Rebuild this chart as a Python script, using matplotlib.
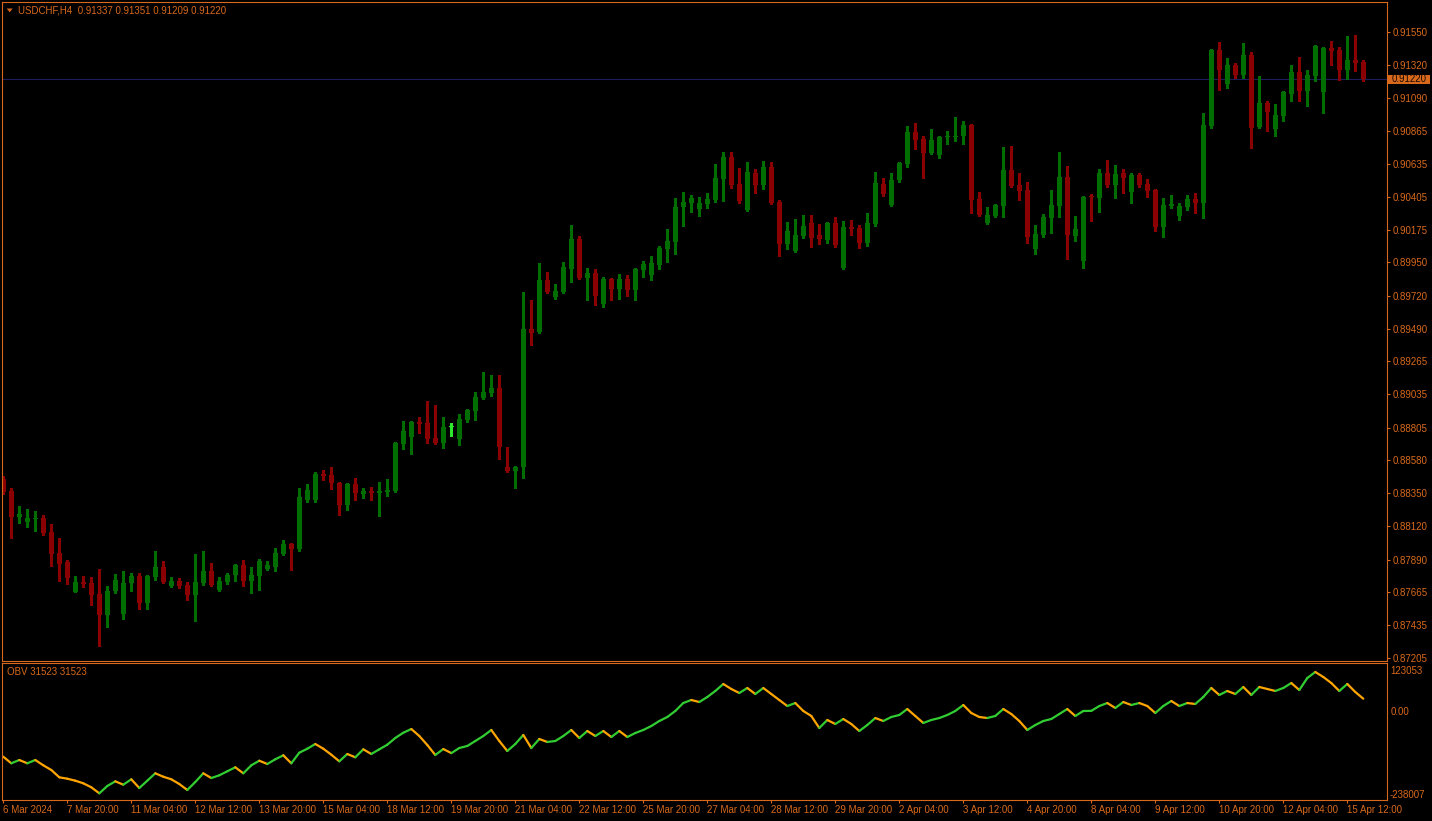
import matplotlib
matplotlib.use("Agg")
import matplotlib.pyplot as plt
from matplotlib.collections import LineCollection
from matplotlib.patches import Rectangle, Polygon
import numpy as np

plt.rcParams['font.family'] = ['Liberation Sans', 'DejaVu Sans']

symbol = "USDCHF,H4"

open_ = [0.88449,0.88365,0.88187,0.88153,0.88171,0.88178,0.88081,0.87936,0.87873,0.87667,
         0.87734,0.87728,0.87651,0.87508,0.87672,0.87513,0.87728,0.87776,0.87589,0.87769,
         0.87838,0.87707,0.87741,0.87714,0.87644,0.87728,0.87811,0.87679,0.87734,0.87783,
         0.87852,0.87741,0.87776,0.87825,0.87838,0.87929,0.87998,0.87963,0.88303,0.88303,
         0.88483,0.88476,0.88421,0.88268,0.88414,0.88345,0.88365,0.88352,0.88359,0.88365,
         0.88691,0.88740,0.88844,0.88837,0.88733,0.88698,0.88809,0.88726,0.88858,0.88920,
         0.89010,0.89045,0.89080,0.88532,0.88504,0.88532,0.89489,0.89468,0.89829,0.89711,
         0.89745,0.89905,0.90113,0.89842,0.89877,0.89662,0.89835,0.89766,0.89835,0.89759,
         0.89898,0.89863,0.89932,0.90043,0.90092,0.90335,0.90362,0.90321,0.90356,0.90383,
         0.90529,0.90681,0.90494,0.90314,0.90570,0.90487,0.90612,0.90369,0.90078,0.90030,
         0.90134,0.90224,0.90141,0.90106,0.90224,0.89912,0.90196,0.90189,0.90085,0.90217,
         0.90494,0.90349,0.90522,0.90633,0.90855,0.90806,0.90709,0.90695,0.90820,0.90820,
         0.90827,0.90903,0.90390,0.90224,0.90272,0.90342,0.90591,0.90487,0.90453,0.90043,
         0.90141,0.90258,0.90342,0.90543,0.90134,0.89960,0.90404,0.90397,0.90570,0.90487,
         0.90570,0.90439,0.90557,0.90494,0.90453,0.90196,0.90345,0.90272,0.90335,0.90390,
         0.90362,0.90896,0.91423,0.91188,0.91319,0.91250,0.91389,0.90889,0.91056,0.90876,
         0.90966,0.91118,0.91271,0.91139,0.91243,0.91132,0.91437,0.91423,0.91285,0.91354,
         0.91337]

high = [0.88469,0.88384,0.88261,0.88241,0.88227,0.88197,0.88137,0.88040,0.87887,0.87776,
        0.87776,0.87769,0.87825,0.87707,0.87790,0.87811,0.87797,0.87795,0.87783,0.87949,
        0.87880,0.87769,0.87762,0.87734,0.87929,0.87949,0.87866,0.87769,0.87797,0.87859,
        0.87887,0.87838,0.87894,0.87880,0.87970,0.88026,0.88005,0.88386,0.88414,0.88497,
        0.88511,0.88532,0.88428,0.88421,0.88456,0.88386,0.88393,0.88428,0.88449,0.88705,
        0.88851,0.88851,0.88879,0.88990,0.88962,0.88879,0.88837,0.88899,0.88934,0.89052,
        0.89191,0.89170,0.89170,0.88671,0.88539,0.89745,0.89690,0.89946,0.89884,0.89801,
        0.89953,0.90210,0.90134,0.89912,0.89905,0.89849,0.89842,0.89870,0.89863,0.89912,
        0.89960,0.89995,0.90064,0.90182,0.90397,0.90439,0.90418,0.90404,0.90432,0.90633,
        0.90716,0.90716,0.90605,0.90647,0.90598,0.90654,0.90647,0.90383,0.90231,0.90252,
        0.90279,0.90279,0.90217,0.90231,0.90265,0.90238,0.90245,0.90210,0.90293,0.90577,
        0.90536,0.90570,0.90647,0.90896,0.90917,0.90827,0.90876,0.90827,0.90862,0.90959,
        0.90931,0.90910,0.90439,0.90335,0.90356,0.90751,0.90758,0.90570,0.90508,0.90210,
        0.90286,0.90453,0.90716,0.90619,0.90272,0.90411,0.90425,0.90598,0.90661,0.90626,
        0.90598,0.90570,0.90570,0.90529,0.90460,0.90397,0.90418,0.90362,0.90418,0.90432,
        0.90987,0.91430,0.91479,0.91368,0.91333,0.91472,0.91409,0.91243,0.91070,0.91049,
        0.91139,0.91319,0.91375,0.91285,0.91458,0.91444,0.91486,0.91444,0.91520,0.91527,
        0.91351]

low = [0.88345,0.88042,0.88141,0.88116,0.88090,0.88062,0.87845,0.87743,0.87723,0.87665,
       0.87702,0.87577,0.87293,0.87425,0.87660,0.87480,0.87674,0.87547,0.87547,0.87748,
       0.87728,0.87700,0.87693,0.87610,0.87464,0.87714,0.87707,0.87672,0.87720,0.87741,
       0.87707,0.87658,0.87679,0.87818,0.87811,0.87922,0.87818,0.87949,0.88289,0.88289,
       0.88442,0.88379,0.88199,0.88234,0.88303,0.88317,0.88303,0.88192,0.88331,0.88359,
       0.88657,0.88622,0.88768,0.88698,0.88691,0.88664,0.88747,0.88684,0.88844,0.88858,
       0.89003,0.89024,0.88587,0.88497,0.88386,0.88456,0.89378,0.89461,0.89738,0.89697,
       0.89738,0.89815,0.89835,0.89690,0.89655,0.89641,0.89690,0.89697,0.89718,0.89690,
       0.89849,0.89829,0.89905,0.89953,0.90009,0.90203,0.90300,0.90272,0.90328,0.90369,
       0.90376,0.90466,0.90362,0.90307,0.90432,0.90460,0.90356,0.89995,0.90043,0.90023,
       0.90120,0.90057,0.90078,0.90085,0.90057,0.89905,0.90141,0.90050,0.90064,0.90203,
       0.90411,0.90342,0.90508,0.90612,0.90737,0.90536,0.90702,0.90674,0.90771,0.90792,
       0.90771,0.90293,0.90272,0.90217,0.90265,0.90265,0.90473,0.90383,0.90085,0.90009,
       0.90127,0.90154,0.90265,0.89974,0.90099,0.89912,0.90238,0.90300,0.90473,0.90397,
       0.90432,0.90362,0.90473,0.90404,0.90168,0.90127,0.90328,0.90245,0.90314,0.90293,
       0.90258,0.90882,0.91146,0.91160,0.91229,0.91229,0.90744,0.90882,0.90862,0.90827,
       0.90931,0.91070,0.91070,0.91035,0.91208,0.90987,0.91319,0.91215,0.91222,0.91278,
       0.91209]

close = [0.88359,0.88187,0.88206,0.88178,0.88176,0.88076,0.87931,0.87861,0.87764,0.87734,
         0.87720,0.87646,0.87508,0.87672,0.87748,0.87728,0.87776,0.87589,0.87776,0.87838,
         0.87734,0.87741,0.87707,0.87644,0.87734,0.87811,0.87714,0.87741,0.87783,0.87852,
         0.87741,0.87783,0.87880,0.87852,0.87936,0.87998,0.87963,0.88324,0.88372,0.88483,
         0.88469,0.88421,0.88268,0.88414,0.88352,0.88365,0.88352,0.88365,0.88372,0.88698,
         0.88781,0.88844,0.88830,0.88726,0.88698,0.88809,0.88809,0.88865,0.88927,0.89017,
         0.89052,0.89080,0.88671,0.88504,0.88532,0.89489,0.89463,0.89829,0.89745,0.89752,
         0.89919,0.90113,0.89842,0.89877,0.89718,0.89835,0.89766,0.89835,0.89759,0.89905,
         0.89939,0.89946,0.90050,0.90099,0.90335,0.90369,0.90397,0.90362,0.90390,0.90536,
         0.90681,0.90487,0.90376,0.90577,0.90487,0.90612,0.90362,0.90078,0.90168,0.90141,
         0.90203,0.90120,0.90113,0.90224,0.90071,0.90196,0.90182,0.90085,0.90224,0.90501,
         0.90425,0.90522,0.90640,0.90855,0.90799,0.90709,0.90799,0.90820,0.90827,0.90827,
         0.90903,0.90383,0.90279,0.90279,0.90349,0.90591,0.90480,0.90446,0.90127,0.90147,
         0.90265,0.90349,0.90543,0.90141,0.90182,0.90404,0.90401,0.90570,0.90487,0.90564,
         0.90536,0.90557,0.90487,0.90446,0.90196,0.90349,0.90349,0.90342,0.90390,0.90362,
         0.90903,0.91423,0.91285,0.91319,0.91250,0.91389,0.90882,0.91056,0.90993,0.90973,
         0.91132,0.91271,0.91139,0.91250,0.91451,0.91437,0.91416,0.91285,0.91354,0.91333,
         0.91220]

obv = [-123600,-141200,-132400,-141200,-132400,-146600,-159100,-178700,-182400,-187700,
       -194700,-205400,-221500,-201900,-189400,-198400,-184000,-207300,-187700,-168000,
       -177100,-184000,-196600,-212600,-191200,-168000,-180600,-173300,-162600,-151900,
       -168000,-146600,-134300,-143100,-130500,-119800,-141200,-112900,-102200,-89600,
       -102200,-118200,-135900,-116300,-125200,-103800,-116300,-103800,-91500,-73500,
       -59500,-49500,-68200,-92300,-119000,-103000,-114000,-100300,-94900,-81600,
       -68200,-52100,-81600,-108300,-89600,-65500,-100300,-76200,-84200,-81600,
       -68200,-52100,-73500,-54800,-68200,-54800,-70900,-54800,-70900,-60200,
       -52100,-41500,-28100,-17400,-1300,20100,28100,22700,36100,52200,
       70900,57500,46800,60200,44100,60200,44100,28000,12000,20000,
       -1300,-14700,-46800,-25400,-36100,-22700,-36100,-54800,-38800,-20100,
       -28100,-17400,-12000,4000,-14700,-33400,-25400,-20100,-12000,-1300,
       14700,-6700,-17400,-20100,-14700,4000,-9400,-28100,-52100,-38800,
       -28100,-22700,-9400,4000,-14700,-1300,-1000,12000,20000,6700,
       22700,14700,20000,12000,-6700,12000,25400,12000,20000,17400,
       36100,60200,41500,52200,44100,62900,41500,62900,57500,52200,
       60200,73500,54800,86900,103000,89600,73500,52200,70900,49500,
       31523]

x_tick_labels = ["6 Mar 2024", "7 Mar 20:00", "11 Mar 04:00", "12 Mar 12:00", "13 Mar 20:00",
                 "15 Mar 04:00", "18 Mar 12:00", "19 Mar 20:00", "21 Mar 04:00", "22 Mar 12:00",
                 "25 Mar 20:00", "27 Mar 04:00", "28 Mar 12:00", "29 Mar 20:00", "2 Apr 04:00",
                 "3 Apr 12:00", "4 Apr 20:00", "8 Apr 04:00", "9 Apr 12:00", "10 Apr 20:00",
                 "12 Apr 04:00", "15 Apr 12:00"]
price_tick_labels = ["0.91550", "0.91320", "0.91090", "0.90865", "0.90635", "0.90405", "0.90175",
                     "0.89950", "0.89720", "0.89490", "0.89265", "0.89035", "0.88805", "0.88580",
                     "0.88350", "0.88120", "0.87890", "0.87665", "0.87435", "0.87205"]
obv_scale_labels = ["123053", "0.00", "-238007"]

FG = '#d8691c'
GREEN = '#006e00'
RED = '#8b0000'
LIME = '#2ee82e'
OBV_UP = '#32cd32'
OBV_DN = '#ffa500'
PRICE_LINE = '#1e1e5c'
FS = 7.0

W, H = 1432, 821
fig = plt.figure(figsize=(W / 100, H / 100), dpi=100, facecolor='black')


def box(l, t, r, b):
    return [l / W, 1 - b / H, (r - l) / W, (b - t) / H]


ax = fig.add_axes(box(2, 2.3, 1386.7, 661), facecolor='black')
axo = fig.add_axes(box(2, 663.3, 1386.7, 800), facecolor='black', sharex=ax)

o = np.array(open_)
h = np.array(high)
l = np.array(low)
c = np.array(close)
x = np.arange(len(c))

cols = np.where(c > o, GREEN, np.where(c < o, RED, LIME))
ax.vlines(x, l, h, colors=cols, linewidth=0.8, antialiased=False)
body_h = np.maximum(np.abs(c - o), 0.00007)
ax.bar(x, body_h, bottom=np.minimum(o, c), width=0.625, color=cols, linewidth=0, antialiased=False)
ax.axhline(c[-1], color=PRICE_LINE, linewidth=0.8, zorder=0)

ax.set_xlim((2 - 3.3) / 8, (1386.7 - 3.3) / 8)
ax.set_ylim(0.91770 - 6.934e-5 * 661, 0.91770 - 6.934e-5 * 2.3)

ax.yaxis.tick_right()
ax.set_yticks([float(s) for s in price_tick_labels])
ax.set_yticklabels(price_tick_labels)
ax.tick_params(axis='y', colors=FG, length=2.4, width=0.8, pad=1.6, labelsize=FS)
ax.tick_params(axis='x', which='both', bottom=False, labelbottom=False, top=False)

# OBV
ov = np.array(obv, dtype=float)
pts = np.column_stack([x, ov])
segs = np.stack([pts[:-1], pts[1:]], axis=1)
seg_cols = [OBV_UP if b > a else OBV_DN for a, b in zip(ov[:-1], ov[1:])]
lc = LineCollection(segs, colors=seg_cols, linewidths=1.6, capstyle='round')
axo.add_collection(lc)
axo.set_ylim((710.5 - 800) * 2674.5, (710.5 - 663.3) * 2674.5)
axo.set_yticks([])
axo.set_xticks(np.arange(0, len(x_tick_labels) * 8, 8))
axo.set_xticklabels(x_tick_labels)
axo.tick_params(axis='x', colors=FG, length=2.4, width=0.8, pad=1.2, labelsize=FS, direction='out')
for t in axo.get_xticklabels():
    t.set_horizontalalignment('left')

for a in (ax, axo):
    for s in a.spines.values():
        s.set_color(FG)
        s.set_linewidth(0.8)

# OBV scale texts
fig.text(1390.7 / W, 1 - 670.7 / H, obv_scale_labels[0], color=FG, fontsize=FS, ha='left', va='center')
fig.text(1390.7 / W, 1 - 711.7 / H, obv_scale_labels[1], color=FG, fontsize=FS, ha='left', va='center')
fig.text(1390.0 / W, 1 - 795.0 / H, obv_scale_labels[2], color=FG, fontsize=FS, ha='left', va='center')

# current price tag
fig.patches.append(Rectangle((1388 / W, 1 - 84.2 / H), 41.5 / W, 9.6 / H, transform=fig.transFigure,
                             facecolor=FG, edgecolor='none'))
fig.text(1408.7 / W, 1 - 79.4 / H, f"{c[-1]:.5f}", color='#1a0a00', fontsize=FS, ha='center', va='center')

# header texts
fig.patches.append(Polygon([(6.7 / W, 1 - 8.5 / H), (12.7 / W, 1 - 8.5 / H), (9.7 / W, 1 - 12.3 / H)],
                           closed=True, transform=fig.transFigure, facecolor=FG, edgecolor='none'))
fig.text(18.3 / W, 1 - 10.7 / H,
         f"{symbol}  {o[-1]:.5f} {h[-1]:.5f} {l[-1]:.5f} {c[-1]:.5f}",
         color=FG, fontsize=FS, ha='left', va='center')
fig.text(7.3 / W, 1 - 672.3 / H, f"OBV {int(ov[-1])} {int(ov[-1])}", color=FG, fontsize=FS,
         ha='left', va='center')

fig.savefig("out.png", dpi=100, facecolor='black')
